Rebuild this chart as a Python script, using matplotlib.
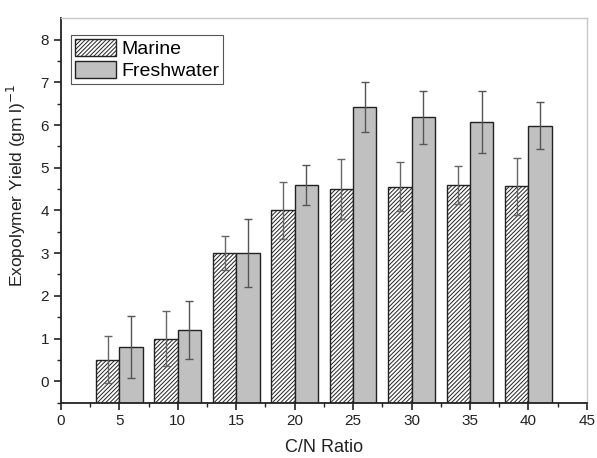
import numpy as np
import matplotlib.pyplot as plt

plt.rcParams['font.family'] = ['Liberation Sans', 'DejaVu Sans']
plt.rcParams['hatch.linewidth'] = 0.7

cn_ratio = [5, 10, 15, 20, 25, 30, 35, 40]
marine = [0.5, 1.0, 3.0, 4.0, 4.5, 4.56, 4.6, 4.57]
marine_err = [0.55, 0.65, 0.4, 0.67, 0.7, 0.57, 0.44, 0.67]
fresh = [0.8, 1.2, 3.0, 4.6, 6.43, 6.18, 6.07, 5.98]
fresh_err = [0.73, 0.68, 0.8, 0.47, 0.59, 0.62, 0.72, 0.55]

x = np.array(cn_ratio)
base = -0.5
fig = plt.figure(figsize=(5.97, 4.58), dpi=100)
ax = fig.add_axes([0.102, 0.121, 0.881, 0.839])

ax.bar(x - 1, np.array(marine) - base, bottom=base, width=2, color='white',
       edgecolor='#222222', hatch='////////', linewidth=1.0, label='Marine')
ax.bar(x + 1, np.array(fresh) - base, bottom=base, width=2, color='#c0c0c0',
       edgecolor='#222222', linewidth=1.0, label='Freshwater')
ax.errorbar(x - 1, marine, yerr=marine_err, fmt='none', ecolor='#666666',
            elinewidth=1.0, capsize=2.7, capthick=1.0)
ax.errorbar(x + 1, fresh, yerr=fresh_err, fmt='none', ecolor='#555555',
            elinewidth=1.0, capsize=2.7, capthick=1.0)

ax.set_xlim(0, 45)
ax.set_ylim(-0.5, 8.5)
ax.set_xticks(range(0, 46, 5))
ax.set_xticks(np.arange(2.5, 45, 5), minor=True)
ax.set_yticks(range(0, 9))
ax.set_yticks(np.arange(-0.5, 8.5, 1), minor=True)
ax.tick_params(axis='both', which='major', direction='out', length=5, width=1.2,
               labelsize=11, colors='#222222')
ax.tick_params(axis='both', which='minor', direction='out', length=3, width=1.0,
               colors='#222222')
for s in ['left', 'bottom']:
    ax.spines[s].set_linewidth(1.3)
    ax.spines[s].set_color('#222222')
for s in ['top', 'right']:
    ax.spines[s].set_color('#c8c8c8')
    ax.spines[s].set_linewidth(1.0)

ax.set_xlabel('C/N Ratio', fontsize=13, color='#222222', labelpad=8)
ax.set_ylabel('Exopolymer Yield (gm l)$^{-1}$', fontsize=12.5, color='#222222')
ax.yaxis.set_label_coords(-0.062, 0.565)

leg = ax.legend(loc='upper left', bbox_to_anchor=(0.02, 0.956), fontsize=14,
                fancybox=False, framealpha=1, edgecolor='#555555',
                handlelength=2.1, handleheight=0.95, borderpad=0.2,
                labelspacing=0.15, handletextpad=0.25, borderaxespad=0)
leg.get_frame().set_linewidth(0.8)

fig.savefig('out.png', dpi=100)
